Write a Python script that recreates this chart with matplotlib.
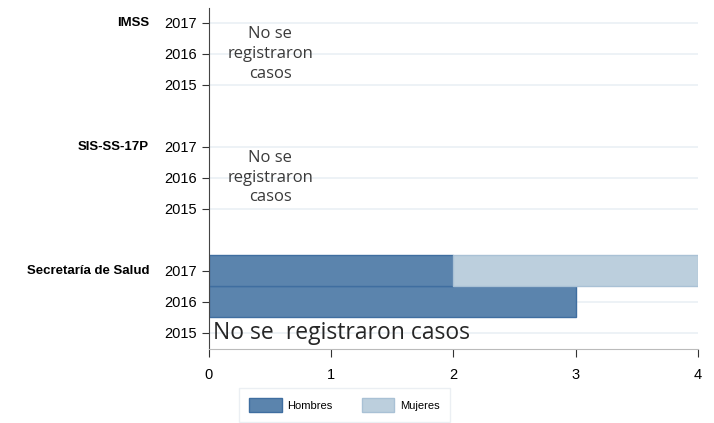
import matplotlib.pyplot as plt

plt.rcParams['font.family'] = ['Liberation Sans', 'DejaVu Sans']

groups = ['Secretaría de Salud', 'SIS-SS-17P', 'IMSS']
years = ['2015', '2016', '2017']
# Secretaría de Salud, 2015..2017
hombres = [0, 3, 2]
mujeres = [0, 0, 2]

c_h = '#5b84ad'
c_m = '#bccfdd'

fig = plt.figure(figsize=(7.14, 4.23), dpi=100)
ax = fig.add_axes([0.2927, 0.175, 0.6849, 0.806])

pos = []
labels = []
for g in range(len(groups)):
    for j, y in enumerate(years):
        pos.append(g * 4 + j)
        labels.append(y)

for p in pos:
    ax.axhline(p, color='#eaf0f5', lw=1.2, zorder=0)

ss_pos = [0, 1, 2]
h_pos = [p for p, v in zip(ss_pos, hombres) if v > 0]
h_val = [v for v in hombres if v > 0]
m_pos = [p for p, v in zip(ss_pos, mujeres) if v > 0]
m_val = [v for v in mujeres if v > 0]
m_left = [h for h, v in zip(hombres, mujeres) if v > 0]
ax.barh(h_pos, h_val, height=1.0, color=c_h, edgecolor='#3f6ea0', lw=1, label='Hombres', zorder=2)
ax.barh(m_pos, m_val, left=m_left, height=1.0, color=c_m, edgecolor='#a9c1d5', lw=1, label='Mujeres', zorder=2)

ax.set_yticks(pos)
ax.set_yticklabels(labels, fontsize=10.5)
ax.set_ylim(-0.52, 10.48)
ax.set_xlim(0, 4)
ax.set_xticks([0, 1, 2, 3, 4])
ax.tick_params(axis='x', labelsize=10.5, length=6, color='#333333', pad=8)
ax.tick_params(axis='y', length=5, color='#333333')

ax.spines['top'].set_visible(False)
ax.spines['right'].set_visible(False)
ax.spines['left'].set_color('#444444')
ax.spines['bottom'].set_color('#bbbbbb')

for g, name in enumerate(groups):
    ax.text(-0.49, g * 4 + 2, name, fontsize=9.5, fontweight='bold',
            ha='right', va='center')

for g in [1, 2]:
    ax.text(0.5, g * 4 + 1, 'No se\nregistraron\ncasos', family=['Open Sans', 'DejaVu Sans'],
            fontsize=12, color='#3a3a3a', ha='center', va='center', linespacing=1.3, zorder=3)

ax.text(0.03, 0, 'No se  registraron casos', family=['Open Sans', 'DejaVu Sans'],
        fontsize=16.5, color='#262626', ha='left', va='center', zorder=3)

fig.legend(loc='center', bbox_to_anchor=(344.5 / 714, 1 - 405 / 423), ncol=2,
           fontsize=8, frameon=True, edgecolor='#e6ecf1', fancybox=False,
           handlelength=2.9, handleheight=1.5, handletextpad=0.55,
           columnspacing=2.6, borderpad=0.9)

fig.savefig('out.png', dpi=100)
